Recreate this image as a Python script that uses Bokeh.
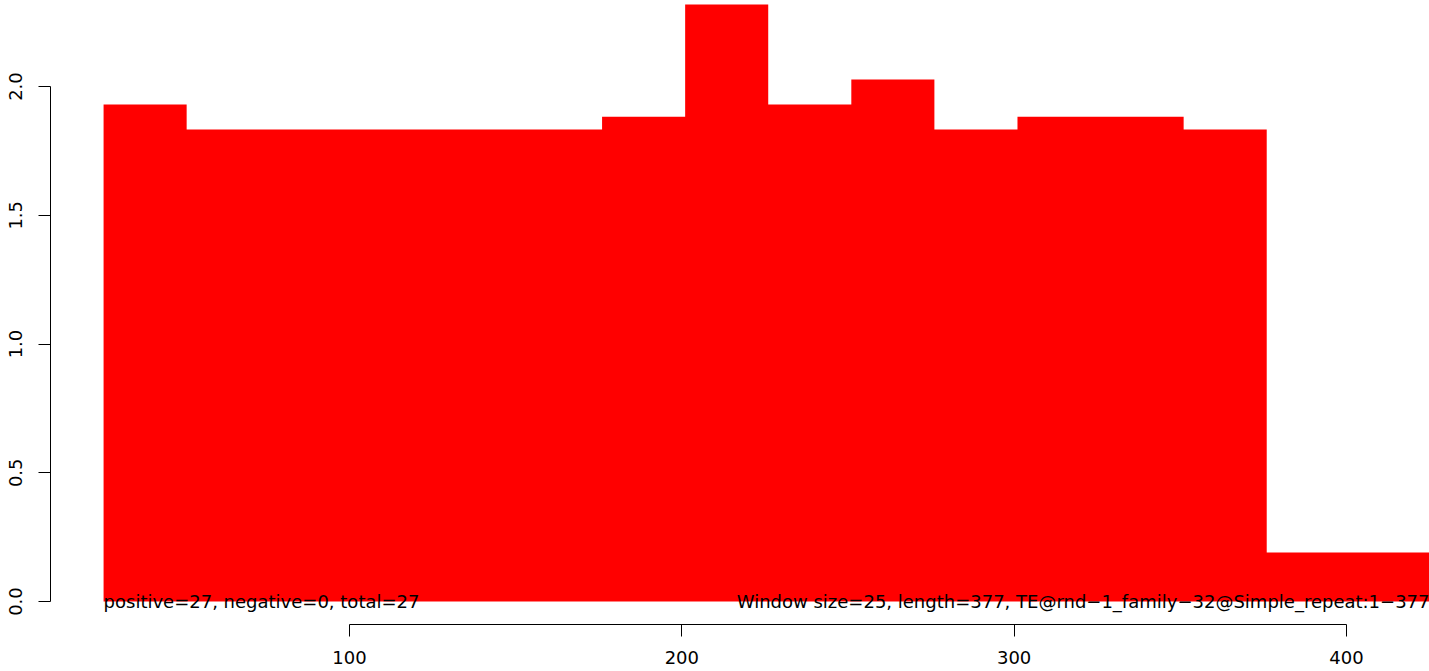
from bokeh.plotting import figure
from bokeh.models import Range1d, FixedTicker, Label, ColumnDataSource
from bokeh.embed import file_html
from bokeh.resources import INLINE

# ---- data ----
window_size = 25
window_start = [26, 51, 76, 101, 126, 151, 176, 201, 226, 251, 276, 301, 326, 351, 376, 401]
window_value = [1.93, 1.833, 1.833, 1.833, 1.833, 1.833, 1.883, 2.318, 1.93, 2.027,
                1.833, 1.883, 1.883, 1.833, 0.19, 0.19]
x_ticks = [100, 200, 300, 400]
y_ticks = [0.0, 0.5, 1.0, 1.5, 2.0]
y_tick_labels = ["0.0", "0.5", "1.0", "1.5", "2.0"]
left_text = "positive=27, negative=0, total=27"
right_text = "Window size=25, length=377, TE@rnd\u22121_family\u221232@Simple_repeat:1\u2212377"

FONT = "DejaVu Sans"
FS = "18px"

x_start, x_end = 10.03, 424.98
y_start, y_end = -0.0893, 2.334

p = figure(width=1429, height=671, output_backend="svg", toolbar_location=None,
           x_range=Range1d(x_start, x_end), y_range=Range1d(y_start, y_end),
           min_border_left=50, min_border_right=0, min_border_top=0, min_border_bottom=47)
p.outline_line_color = None
p.grid.visible = False
p.background_fill_color = "white"
p.border_fill_color = "white"

# step outline of the window histogram (one polygon, no seams between bars)
step_x = window_start + [window_start[-1] + window_size]
step_y = window_value + [window_value[-1]]
src = ColumnDataSource(dict(x=step_x, y1=[0] * len(step_x), y2=step_y))
p.varea_step(x="x", y1="y1", y2="y2", source=src, step_mode="after",
             fill_color="#ff0000")

for ax in (p.xaxis[0], p.yaxis[0]):
    ax.axis_line_color = "black"
    ax.axis_line_width = 1
    ax.major_tick_line_color = "black"
    ax.major_tick_line_width = 1
    ax.major_tick_in = 0
    ax.major_tick_out = 12
    ax.minor_tick_line_color = None
    ax.major_label_text_font = FONT
    ax.major_label_text_font_size = FS
    ax.major_label_text_color = "black"

p.xaxis.ticker = FixedTicker(ticks=x_ticks)
p.xaxis.bounds = (x_ticks[0], x_ticks[-1])
p.xaxis.major_label_standoff = 14

p.yaxis.ticker = FixedTicker(ticks=y_ticks)
p.yaxis.bounds = (y_ticks[0], y_ticks[-1])
p.yaxis.major_label_overrides = {t: l for t, l in zip(y_ticks, y_tick_labels)}
p.yaxis.major_label_orientation = "vertical"
p.yaxis.major_label_standoff = 16

p.add_layout(Label(x=window_start[0], y=0, text=left_text, text_align="left",
                   text_baseline="alphabetic", text_font=FONT, text_font_size=FS,
                   text_color="black"))
p.add_layout(Label(x=x_end, y=0, text=right_text, text_align="right",
                   text_baseline="alphabetic", text_font=FONT, text_font_size=FS,
                   text_color="black"))

open("out.html", "w").write(file_html(p, INLINE))
